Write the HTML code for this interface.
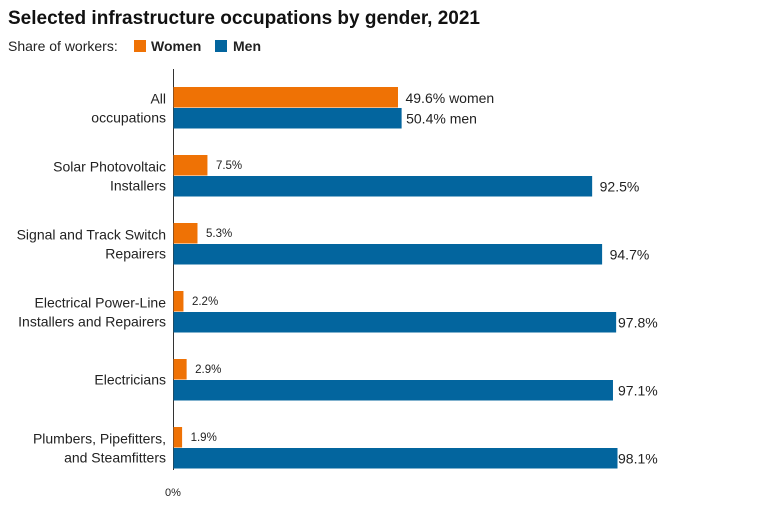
<!DOCTYPE html>
<html><head><meta charset="utf-8"><style>
body{margin:0;background:#fff;font-family:"Liberation Sans",sans-serif;}
svg{display:block}
</style></head><body>
<svg id="chart" width="760" height="520">
<text x="8" y="24" font-size="19" font-weight="bold" fill="#111">Selected infrastructure occupations by gender, 2021</text>
<text x="8" y="51" font-size="14" fill="#222">Share of workers:</text>
<rect x="134" y="40" width="12" height="12" fill="#ef7205"/>
<text x="151" y="51" font-size="14" font-weight="bold" fill="#222">Women</text>
<rect x="215" y="40" width="12" height="12" fill="#03659e"/>
<text x="233" y="51" font-size="14" font-weight="bold" fill="#222">Men</text>
<line x1="173.5" y1="69" x2="173.5" y2="470" stroke="#333" stroke-width="1"/>
<text x="173" y="496" font-size="11" fill="#222" text-anchor="middle">0%</text>
<g id="bars"></g>
</svg>
<script>
const categories=[["All","occupations"],["Solar Photovoltaic","Installers"],["Signal and Track Switch","Repairers"],["Electrical Power-Line","Installers and Repairers"],["Electricians"],["Plumbers, Pipefitters,","and Steamfitters"]];
const women=[49.6,7.5,5.3,2.2,2.9,1.9];
const men=[50.4,92.5,94.7,97.8,97.1,98.1];
const x0=173, pxPer=4.526, topY=87, step=68, bh=20.5;
function xs(v){return x0+v*pxPer;}
const g=document.getElementById('bars');
const NS='http://www.w3.org/2000/svg';
function mk(t,a,txt){const e=document.createElementNS(NS,t);for(const k in a)e.setAttribute(k,a[k]);if(txt!==undefined)e.textContent=txt;g.appendChild(e);return e;}
categories.forEach((c,i)=>{
  const y=topY+i*step;
  let r=mk('rect',{x:x0+0.5,y:y,width:xs(women[i])-x0,height:bh,fill:'#ef7205'});
  
  
  r=mk('rect',{x:x0+0.5,y:y+bh+0.5,width:xs(men[i])-x0,height:bh,fill:'#03659e'});
  
  
  const first=i===0;
  let t=mk('text',{x:xs(women[i])+(first?8:9),y:y+(first?16:14),'font-size':first?14:11.5,fill:'#222'},women[i].toFixed(1)+'%'+(first?' women':''));
  
  
  t=mk('text',{x:first?xs(men[i])+5:Math.min(xs(men[i])+8,618),y:y+bh+16,'font-size':14,fill:'#222'},men[i].toFixed(1)+'%'+(first?' men':''));
  
  
  const cy=y+bh;
  c.forEach((ln,j)=>{
    const yy=c.length===1?cy+5:cy-4+j*19;
    const l=mk('text',{x:166,y:yy,'font-size':14,fill:'#222','text-anchor':'end'},ln);
    
    
  });
});
</script>
</body></html>
